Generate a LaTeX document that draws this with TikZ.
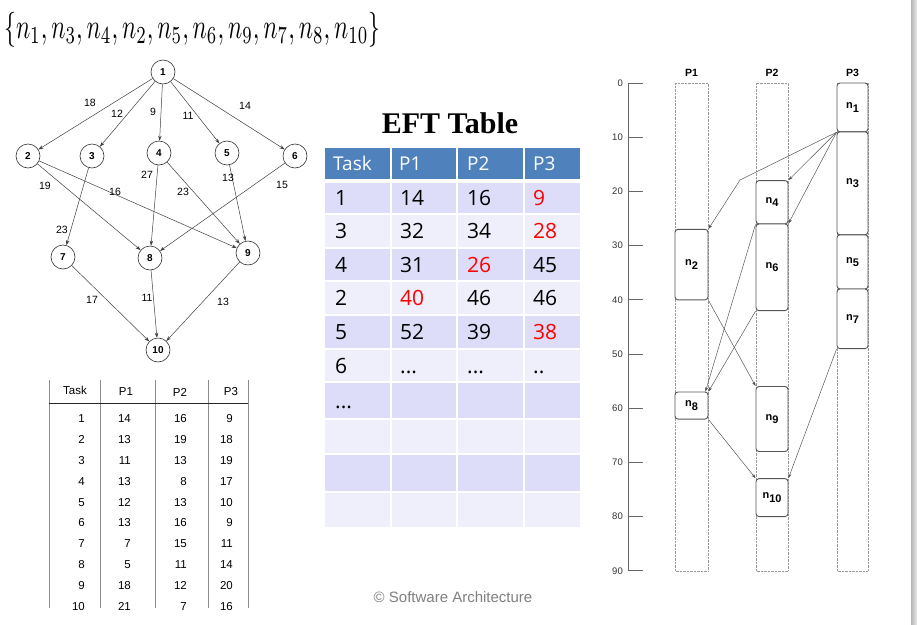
\documentclass[tikz,border=0pt]{standalone}
\usepackage{fontspec}
\usepackage{graphicx}
\setmainfont{Liberation Sans}
\newfontfamily\timesf{Liberation Serif}
\newfontfamily\osans{Open Sans}
\usetikzlibrary{arrows.meta}
\definecolor{hdr}{RGB}{79,129,189}
\definecolor{rowA}{RGB}{221,221,250}
\definecolor{rowB}{RGB}{239,239,252}
\definecolor{eftred}{RGB}{255,0,0}
\definecolor{ganttline}{RGB}{85,85,85}
\begin{document}
\begin{tikzpicture}[x=1pt,y=-1pt,
  dagnode/.style={circle,draw=black!80,line width=0.6pt,minimum size=24pt,inner sep=0pt,
    font=\bfseries\fontsize{10}{10}\selectfont},
  dagedge/.style={-{Stealth[length=5pt,width=3.5pt]},line width=0.5pt,draw=black!75},
  elab/.style={font=\fontsize{10.5}{10.5}\selectfont,inner sep=0pt},
  ltab/.style={font=\fontsize{11.5}{11.5}\selectfont,inner sep=0pt},
  eft/.style={font=\osans\fontsize{21}{21}\selectfont,inner sep=0pt,anchor=base west},
  efthdr/.style={font=\osans\fontsize{19}{19}\selectfont,inner sep=0pt,anchor=base west,text=white},
  gbox/.style={draw=ganttline,line width=0.9pt,rounded corners=3pt,fill=white,inner sep=0pt,
    font=\bfseries\fontsize{11}{11}\selectfont},
  gcol/.style={draw=black!40,densely dotted,line width=0.4pt},
  garrow/.style={-{Stealth[length=4.5pt,width=3pt]},line width=0.45pt,draw=black!70},
  ghead/.style={font=\bfseries\fontsize{10.5}{10.5}\selectfont,inner sep=0pt},
  gtick/.style={font=\fontsize{9.5}{9.5}\selectfont,inner sep=0pt,anchor=east,text=black!80}
]
\useasboundingbox (0,0) rectangle (917,624);
\fill[white] (0,0) rectangle (917,624);
\shade[left color=black!28,right color=black!8] (911,0) rectangle (917,624);

% ---------- ordered set ----------
\node[anchor=west,inner sep=0pt] (order) at (4,29.5)
  {\resizebox*{376pt}{35pt}{$\{n_1,n_3,n_4,n_2,n_5,n_6,n_9,n_7,n_8,n_{10}\}$}};

% ---------- DAG ----------
\node[dagnode] (d1) at (163,72) {1};
\node[dagnode] (d2) at (28,156) {2};
\node[dagnode] (d3) at (92,156) {3};
\node[dagnode] (d4) at (159,153) {4};
\node[dagnode] (d5) at (227,153) {5};
\node[dagnode] (d6) at (295,156) {6};
\node[dagnode] (d7) at (63,257) {7};
\node[dagnode] (d8) at (150,258) {8};
\node[dagnode] (d9) at (248,253) {9};
\node[dagnode] (d10) at (158,350) {10};
\foreach \a/\b in {1/2,1/3,1/4,1/5,1/6,2/8,2/9,3/7,4/8,4/9,5/9,6/8,7/10,8/10,9/10}
  \draw[dagedge] (d\a) -- (d\b);
\node[elab] (w12) at (90,103) {18};
\node[elab] (w13) at (117,114) {12};
\node[elab] (w14) at (153,112) {9};
\node[elab] (w15) at (188,116) {11};
\node[elab] (w16) at (245,106) {14};
\node[elab] (w28) at (45,186) {19};
\node[elab] (w29) at (115,192) {16};
\node[elab] (w48) at (147,175) {27};
\node[elab] (w49) at (183,192) {23};
\node[elab] (w59) at (228,178) {13};
\node[elab] (w68) at (282,185) {15};
\node[elab] (w37) at (62,230) {23};
\node[elab] (w710) at (92,300) {17};
\node[elab] (w810) at (147,298) {11};
\node[elab] (w910) at (223,302) {13};

% ---------- computation cost table ----------
\foreach \x in {49,100,155,208,248}
  \draw[black!45,line width=0.6pt] (\x,380) -- (\x,608);
\draw[black!85,line width=0.8pt] (49,403) -- (248,403);
\node[ltab] (lh0) at (75,390) {Task};
\node[ltab] (lh1) at (126,392) {P1};
\node[ltab] (lh2) at (180,392) {P2};
\node[ltab] (lh3) at (231,392) {P3};
\foreach \t/\a/\b/\c [count=\i from 0] in
  {1/14/16/9,2/13/19/18,3/11/13/19,4/13/8/17,5/12/13/10,6/13/16/9,7/7/15/11,8/5/11/14,9/18/12/20,10/21/7/16}{
  \node[ltab,anchor=east] (lt\t) at (85,{419+20.8*\i}) {\t};
  \node[ltab,anchor=east] (la\t) at (131,{419+20.8*\i}) {\a};
  \node[ltab,anchor=east] (lb\t) at (187,{419+20.8*\i}) {\b};
  \node[ltab,anchor=east] (lc\t) at (233,{419+20.8*\i}) {\c};
}

% ---------- EFT table ----------
\node[font=\timesf\bfseries\fontsize{30}{30}\selectfont,inner sep=0pt,anchor=base] (efttitle) at (450,133) {EFT Table};
\foreach \xa/\xb in {325/390,392/456,458/523,525/580}{
  \fill[hdr] (\xa,148) rectangle (\xb,179);
  \foreach \ya/\yb [count=\r] in {183/213,215/247,249/280,282/314,316/348,350/381,383/418,420/453,455/491,493/527}{
    \pgfmathsetmacro{\odd}{mod(\r,2)}
    \ifdim\odd pt>0.5pt \fill[rowA] (\xa,\ya) rectangle (\xb,\yb);
    \else \fill[rowB] (\xa,\ya) rectangle (\xb,\yb); \fi
  }
}
\node[efthdr] (eh0) at (333,170) {Task};
\node[efthdr] (eh1) at (399,170) {P1};
\node[efthdr] (eh2) at (467,170) {P2};
\node[efthdr] (eh3) at (533,170) {P3};
% row baselines
\node[eft] (e10) at (335,205.5) {1};
\node[eft] (e11) at (400,205.5) {14};
\node[eft] (e12) at (467,205.5) {16};
\node[eft,text=eftred] (e13) at (533,205.5) {9};
\node[eft] (e20) at (335,238.5) {3};
\node[eft] (e21) at (400,238.5) {32};
\node[eft] (e22) at (467,238.5) {34};
\node[eft,text=eftred] (e23) at (533,238.5) {28};
\node[eft] (e30) at (335,272) {4};
\node[eft] (e31) at (400,272) {31};
\node[eft,text=eftred] (e32) at (467,272) {26};
\node[eft] (e33) at (533,272) {45};
\node[eft] (e40) at (335,305.5) {2};
\node[eft,text=eftred] (e41) at (400,305.5) {40};
\node[eft] (e42) at (467,305.5) {46};
\node[eft] (e43) at (533,305.5) {46};
\node[eft] (e50) at (335,339.5) {5};
\node[eft] (e51) at (400,339.5) {52};
\node[eft] (e52) at (467,339.5) {39};
\node[eft,text=eftred] (e53) at (533,339.5) {38};
\node[eft] (e60) at (335,373) {6};
\node[eft] (e61) at (400,373) {...};
\node[eft] (e62) at (467,373) {...};
\node[eft] (e63) at (533,373) {..};
\node[eft] (e70) at (335,408) {...};

% ---------- Gantt chart ----------
\draw[black!60,line width=0.7pt] (628,83) -- (628,571);
\foreach \t in {0,10,...,90}{
  \draw[black!60,line width=0.7pt] (628,{83+5.42*\t}) -- (643,{83+5.42*\t});
  \node[gtick] (tk\t) at (623,{83+5.42*\t}) {\t};
}
\draw[gcol] (675,83) rectangle (708,571);
\draw[gcol] (756,83) rectangle (788,571);
\draw[gcol] (837,83) rectangle (868,571);
\node[ghead] (hp1) at (691.5,73) {P1};
\node[ghead] (hp2) at (772,73) {P2};
\node[ghead] (hp3) at (852.5,73) {P3};
\newcommand{\nlab}[1]{n\raisebox{-3.5pt}{#1}}
\node[gbox,minimum width=31pt,minimum height=48.8pt] (g1) at (852.5,107.4) {\nlab{1}};
\node[gbox,minimum width=31pt,minimum height=103pt] (g3) at (852.5,183.3) {\nlab{3}};
\node[gbox,minimum width=31pt,minimum height=54.2pt] (g5) at (852.5,261.9) {\nlab{5}};
\node[gbox,minimum width=31pt,minimum height=59.6pt] (g7) at (852.5,318.8) {\nlab{7}};
\node[gbox,minimum width=32pt,minimum height=43.3pt] (g4) at (772,202.2) {\nlab{4}};
\node[gbox,minimum width=32pt,minimum height=86.7pt] (g6) at (772,267.3) {\nlab{6}};
\node[gbox,minimum width=33pt,minimum height=70.5pt] (g2) at (691.5,264.6) {\nlab{2}};
\node[gbox,minimum width=33pt,minimum height=27.1pt] (g8) at (691.5,405.5) {\nlab{8}};
\node[gbox,minimum width=32pt,minimum height=65pt] (g9) at (772,419) {\nlab{9}};
\node[gbox,minimum width=32pt,minimum height=37.9pt] (g10) at (772,497.6) {\nlab{10}};
\coordinate (bend2) at (740,180);
\draw[garrow] (g1.south west) -- (bend2) -- (g2.north east);
\draw[garrow] (g1.south west) -- (g4.north east);
\draw[garrow] (g1.south west) -- (g6.north east);
\draw[garrow] (g4.south west) -- ([xshift=-3pt]g8.north east);
\draw[garrow] (g6.south west) -- (g8.north east);
\draw[garrow] (g2.south east) -- (g9.north west);
\draw[garrow] (g8.south east) -- (g10.north west);
\draw[garrow] (g7.south west) -- (g10.north east);

% ---------- footer ----------
\node[font=\fontsize{15}{15}\selectfont,text=black!50,inner sep=0pt] (copy) at (453,597) {© Software Architecture};
\end{tikzpicture}
\end{document}
